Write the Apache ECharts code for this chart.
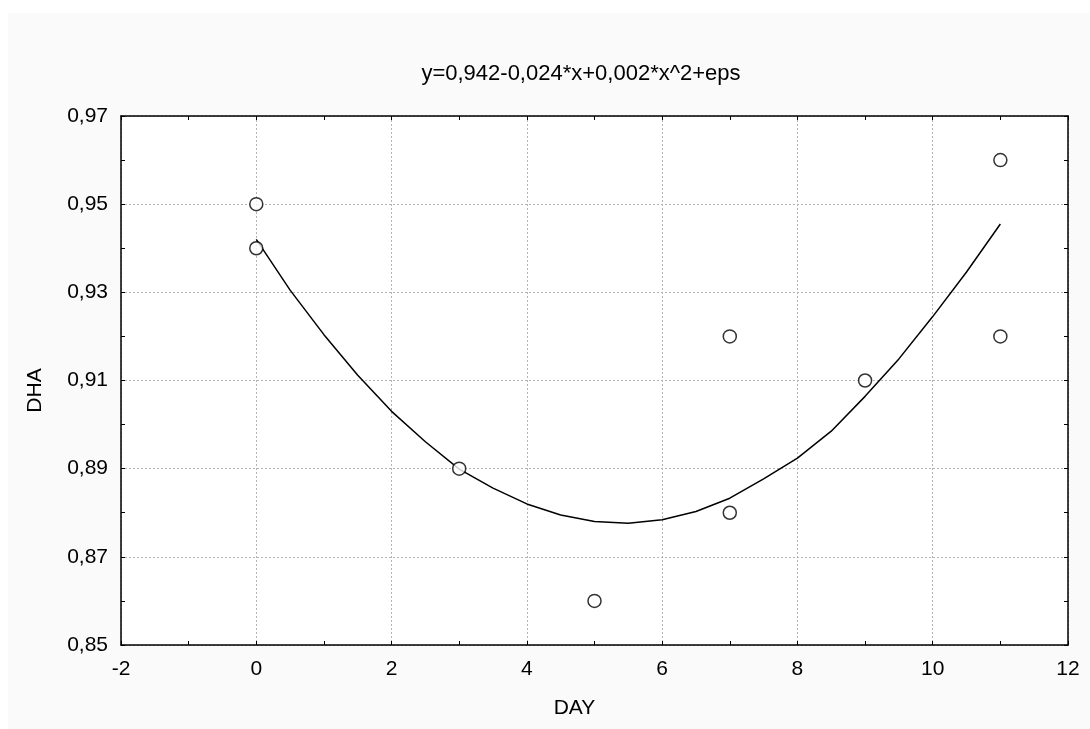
<!DOCTYPE html>
<html>
<head>
<meta charset="utf-8">
<script src="https://cdn.jsdelivr.net/npm/echarts@6/dist/echarts.min.js"></script>
<style>
  html, body { margin: 0; padding: 0; background: #fff; }
  #chart { width: 1090px; height: 729px; }
</style>
</head>
<body>
<div id="chart"></div>
<script>
// observed points
const dayValues = [0, 0, 3, 5, 7, 7, 9, 11, 11]
const dhaValues = [0.95, 0.94, 0.89, 0.86, 0.92, 0.88, 0.91, 0.96, 0.92]

// fitted curve
const fitDays = [0, 0.5, 1, 1.5, 2, 2.5, 3, 3.5, 4, 4.5, 5, 5.5, 6, 6.5, 7, 7.5, 8, 8.5, 9, 9.5, 10, 10.5, 11]
const fitDha = [0.942, 0.9305, 0.9204, 0.9112, 0.903, 0.8961, 0.8899, 0.8856, 0.882, 0.8795, 0.878, 0.8776, 0.8784,
  0.8803, 0.8833, 0.8877, 0.8924, 0.8985, 0.9064, 0.9149, 0.9245, 0.9346, 0.9455]

const titleText = 'y=0,942-0,024*x+0,002*x^2+eps'

const chart = echarts.init(document.getElementById('chart'))

const font = 'Liberation Sans, Arial, sans-serif'
const comma = v => v.toFixed(2).replace('.', ',')

const gridLine = { show: true, lineStyle: { color: '#b4b4b4', type: [2, 2], width: 1 } }
const axisLine = { show: true, onZero: false, lineStyle: { color: '#000', width: 1.5 } }
const tick = { show: true, inside: true, length: 4, lineStyle: { color: '#000' } }
const minor = { show: true, splitNumber: 2, length: 4, lineStyle: { color: '#000' } }

const option = {
  backgroundColor: '#fff',
  animation: false,
  graphic: [{
    type: 'rect',
    z: -10,
    shape: { x: 8, y: 13, width: 1082, height: 716 },
    style: { fill: '#fafafa' }
  }],
  title: {
    text: titleText,
    left: 581,
    top: 63,
    padding: 0,
    textAlign: 'center',
    textStyle: { fontFamily: font, fontSize: 22, fontWeight: 'normal', color: '#000' }
  },
  grid: {
    left: 121,
    right: 22,
    top: 116,
    bottom: 84,
    show: true,
    backgroundColor: '#fff',
    borderWidth: 0
  },
  xAxis: [{
    type: 'value',
    min: -2,
    max: 12,
    interval: 2,
    name: 'DAY',
    nameLocation: 'middle',
    nameGap: 53,
    nameTextStyle: { fontFamily: font, fontSize: 21, color: '#000', padding: [0, 40, 0, 0] },
    axisLine,
    axisTick: tick,
    minorTick: minor,
    splitLine: gridLine,
    axisLabel: { fontFamily: font, fontSize: 21, color: '#000', margin: 14 }
  }, {
    type: 'value',
    position: 'top',
    min: -2,
    max: 12,
    interval: 2,
    axisLine,
    axisTick: tick,
    minorTick: minor,
    splitLine: { show: false },
    axisLabel: { show: false }
  }],
  yAxis: [{
    type: 'value',
    min: 0.85,
    max: 0.97,
    interval: 0.02,
    name: 'DHA',
    nameLocation: 'middle',
    nameGap: 75,
    nameTextStyle: { fontFamily: font, fontSize: 21, color: '#000', padding: [0, 20, 0, 0] },
    axisLine,
    axisTick: tick,
    minorTick: minor,
    splitLine: gridLine,
    axisLabel: { fontFamily: font, fontSize: 21, color: '#000', margin: 13, formatter: comma }
  }, {
    type: 'value',
    position: 'right',
    min: 0.85,
    max: 0.97,
    interval: 0.02,
    axisLine,
    axisTick: tick,
    minorTick: minor,
    splitLine: { show: false },
    axisLabel: { show: false }
  }],
  series: [{
    type: 'line',
    data: fitDays.map((d, i) => [d, fitDha[i]]),
    smooth: false,
    showSymbol: false,
    lineStyle: { color: '#000', width: 1.5, join: 'round' },
    z: 2
  }, {
    type: 'scatter',
    data: dayValues.map((d, i) => [d, dhaValues[i]]),
    symbol: 'circle',
    symbolSize: 13,
    itemStyle: { color: '#fff', borderColor: '#000', borderWidth: 1.5 },
    z: 3
  }]
}

chart.setOption(option)
</script>
</body>
</html>
